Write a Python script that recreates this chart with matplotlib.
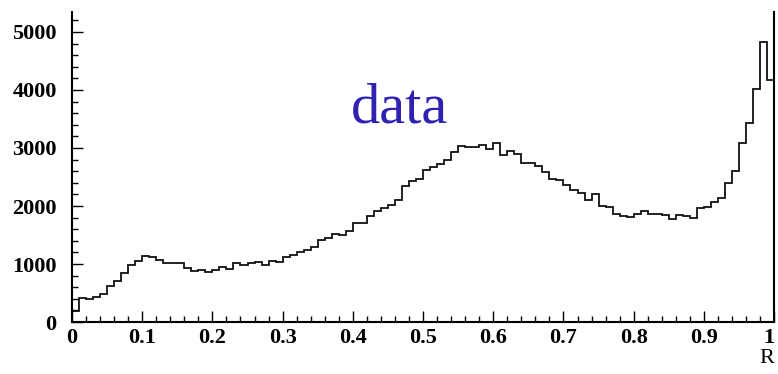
#!/usr/bin/env python

import numpy as np
from matplotlib import pyplot as plt, ticker

# histogram of R, 100 bins between 0 and 1
bin_edges = np.linspace(0.0, 1.0, 101)
counts = [
    195, 408, 390, 437, 490, 615, 710, 839, 975, 1055,
    1132, 1126, 1069, 1011, 1011, 1011, 925, 885, 897, 868,
    897, 954, 908, 1023, 990, 1015, 1030, 983, 1057, 1030,
    1126, 1155, 1205, 1241, 1299, 1410, 1450, 1510, 1500, 1566,
    1707, 1707, 1822, 1919, 1960, 2017, 2110, 2345, 2437, 2460,
    2621, 2672, 2730, 2800, 2936, 3034, 3011, 3011, 3052, 2977,
    3092, 2879, 2953, 2900, 2747, 2740, 2690, 2592, 2465, 2445,
    2360, 2280, 2225, 2098, 2207, 2000, 1985, 1870, 1822, 1816,
    1856, 1919, 1862, 1856, 1850, 1776, 1850, 1827, 1787, 1960,
    1989, 2074, 2132, 2391, 2609, 3092, 3425, 4017, 4833, 4172,
]

xticks = [0.0, 0.1, 0.2, 0.3, 0.4, 0.5, 0.6, 0.7, 0.8, 0.9, 1.0]
xtick_labels = ['0', '0.1', '0.2', '0.3', '0.4', '0.5', '0.6', '0.7', '0.8', '0.9', '1']
yticks = [0, 1000, 2000, 3000, 4000, 5000]
ytick_labels = ['0', '1000', '2000', '3000', '4000', '5000']


def main():
    plt.rcParams['font.family'] = ['Liberation Serif', 'DejaVu Serif']

    fig = plt.figure(figsize=(7.78, 3.74), dpi=100)
    ax = fig.add_axes([0.0925, 0.139, 0.9025, 0.829])

    ax.stairs(counts, bin_edges, color='#111111', lw=1.3)

    ax.set_xlim(0, 1)
    ax.set_ylim(0, 5345)

    # ROOT-like frame: no top line
    ax.spines['top'].set_visible(False)
    for side in ('left', 'bottom', 'right'):
        ax.spines[side].set_linewidth(1.5)

    ax.set_xticks(xticks)
    ax.set_xticklabels(xtick_labels)
    ax.set_yticks(yticks)
    ax.set_yticklabels(ytick_labels)
    ax.xaxis.set_minor_locator(ticker.MultipleLocator(0.02))
    ax.yaxis.set_minor_locator(ticker.MultipleLocator(200))
    ax.tick_params(which='both', direction='in', top=False, right=False, width=1.0)
    ax.tick_params(which='major', length=8)
    ax.tick_params(which='minor', length=4)
    ax.tick_params(axis='x', pad=4)
    ax.tick_params(axis='y', pad=11)
    for lab in ax.get_xticklabels() + ax.get_yticklabels():
        lab.set_fontsize(16)
        lab.set_fontweight('bold')
    # last label sits on the figure edge, keep it inside
    ax.get_xticklabels()[-1].set_horizontalalignment('right')

    ax.text(0.467, 0.642, 'data', transform=ax.transAxes, ha='center',
            va='baseline', fontsize=42, color='#2f22b0')
    fig.text(0.995, 0.03, 'R', ha='right', va='baseline', fontsize=16)

    fig.savefig('out.png', dpi=100)


if __name__ == '__main__':
    main()
